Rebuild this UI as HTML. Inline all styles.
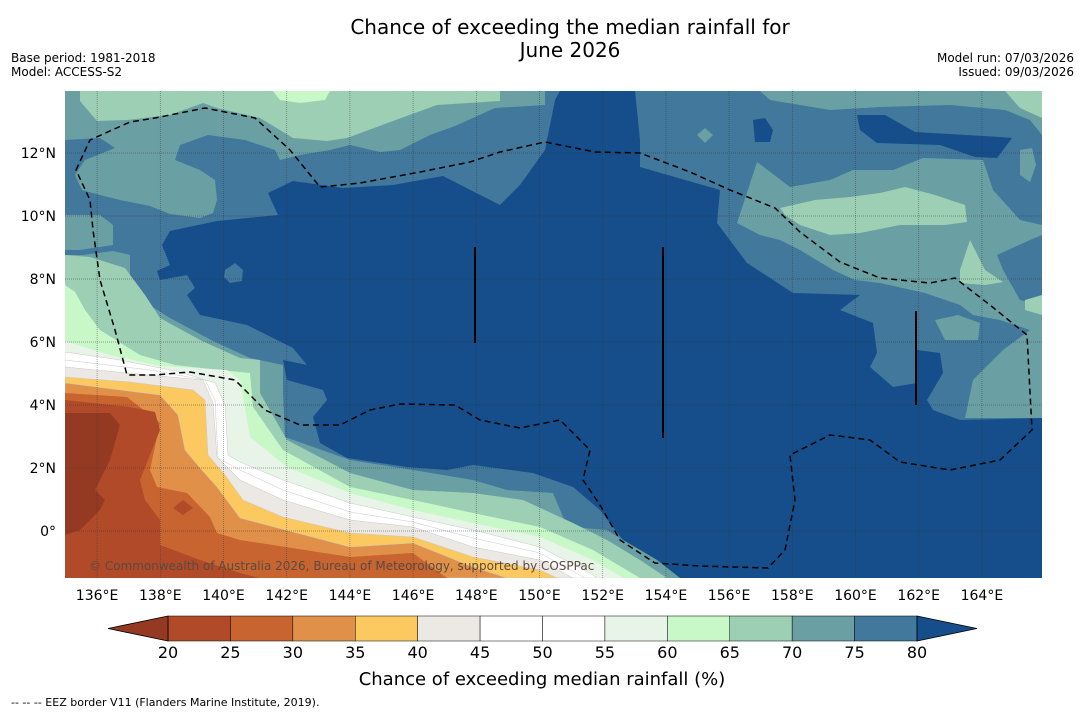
<!DOCTYPE html>
<html><head><meta charset="utf-8">
<style>
body{margin:0;background:#fff;width:1085px;height:713px;overflow:hidden;font-family:"DejaVu Sans","Liberation Sans",sans-serif;}
svg{position:absolute;left:0;top:0}
</style></head>
<body>
<svg width="1085" height="713" id="svg" font-family="DejaVu Sans, Liberation Sans, sans-serif">
<text x="570" y="34" font-size="20" text-anchor="middle">Chance of exceeding the median rainfall for</text>
<text x="570" y="57" font-size="20" text-anchor="middle">June 2026</text>
<text x="11" y="62" font-size="12">Base period: 1981-2018</text>
<text x="11" y="76" font-size="12">Model: ACCESS-S2</text>
<text x="1074" y="62" font-size="12" text-anchor="end">Model run: 07/03/2026</text>
<text x="1074" y="76" font-size="12" text-anchor="end">Issued: 09/03/2026</text>
<defs><clipPath id="mc"><rect x="65" y="91" width="977" height="487"/></clipPath></defs>
<g id="map" clip-path="url(#mc)"></g>
<g id="cb"></g>
<text x="542" y="685" font-size="18" text-anchor="middle">Chance of exceeding median rainfall (%)</text>
<text x="11" y="706" font-size="11">--  --  -- EEZ border V11 (Flanders Marine Institute, 2019).</text>
</svg>
<script>
const levels=[20,25,30,35,40,45,50,55,60,65,70,75,80];
const bandColors=["#b04a28","#c86430","#e09048","#fcc860","#ece8e4","#ffffff","#ffffff","#e8f4e8","#c8f8c8","#9ccfb4","#6aa0a4","#41789c"];
const underColor="#953a22", overColor="#154e8a";
const lonTicks=[136,138,140,142,144,146,148,150,152,154,156,158,160,162,164];
const latTicks=[0,2,4,6,8,10,12];
const NS="http://www.w3.org/2000/svg";
const X=lon=>65.5+(lon-135)*31.6;
const Y=lat=>531-lat*31.5;
const svg=document.getElementById('svg'),map=document.getElementById('map'),cb=document.getElementById('cb');
function mk(tag,attrs,parent){const e=document.createElementNS(NS,tag);for(const k in attrs)e.setAttribute(k,attrs[k]);parent.appendChild(e);return e;}
function poly(pts,fill,name,stroke){const p=mk('polygon',{points:pts.map(q=>q.join(",")).join(" "),fill:fill},map);
 if(stroke){p.setAttribute('stroke',stroke);p.setAttribute('stroke-width','0.5');}
 
 
 return p;}
const C70="#6aa0a4",C65="#9ccfb4",C60="#c8f8c8",C75="#41789c";
let r=mk('rect',{x:65,y:91,width:977,height:487,fill:C75},map);


// contour shapes (pixel geometry)
poly([[65,91],[545,91],[545,105],[495,108],[455,126],[430,135],[400,150],[380,152],[350,145],[330,150],[300,155],[280,160],[275,150],[245,140],[208,135],[180,145],[175,160],[200,170],[215,180],[217,200],[213,213],[200,218],[170,214],[150,206],[120,200],[100,195],[82,190],[75,175],[85,160],[115,148],[100,138],[65,140]],C70,'northwest-teal-region');
poly([[65,215],[100,215],[113,225],[113,245],[80,250],[65,250]],C70,'west-teal-patch');
poly([[80,91],[80,101],[97,121],[127,120],[170,115],[203,103],[217,108],[260,118],[293,138],[327,141],[347,138],[393,121],[437,105],[500,101],[500,91]],C65,'northwest-green-region');
poly([[273,91],[330,91],[325,100],[300,103],[280,100]],C60,'northwest-light-green-patch');
poly([[760,91],[1042,91],[1042,135],[1030,120],[1005,110],[950,105],[880,107],[830,110],[800,105],[770,100]],C70,'northeast-teal-strip');
poly([[1005,91],[1042,91],[1042,118],[1020,108]],C65,'northeast-green-corner');
poly([[737,223],[757,162],[790,187],[830,180],[853,170],[893,170],[923,158],[983,160],[993,190],[1020,220],[1042,225],[1042,235],[1030,240],[997,255],[1003,270],[1020,300],[1042,305],[1042,418],[965,418],[973,380],[1003,350],[1030,330],[1000,320],[973,315],[960,305],[925,293],[880,283],[855,280],[833,270],[800,250],[780,240],[760,235]],C70,'east-teal-region');
poly([[1020,150],[1032,148],[1036,165],[1030,182],[1020,175]],C70,'east-teal-patch');
poly([[697,135],[705,128],[713,135],[705,143]],C70,'small-teal-patch');
poly([[780,208],[815,200],[850,197],[880,193],[905,187],[935,195],[965,205],[967,222],[945,225],[900,225],[860,233],[830,235],[800,225],[785,215]],C65,'east-green-region');
poly([[960,270],[970,240],[985,270],[1003,282],[985,285],[960,283]],C65,'east-green-spike');
poly([[1025,300],[1042,295],[1042,315],[1025,310]],C65,'east-green-edge');
poly([[935,320],[958,315],[980,323],[978,340],[945,340]],C70,'southeast-teal-patch');
// high-chance region
poly([[268,193],[293,181],[343,188],[393,185],[443,176],[500,205],[520,185],[545,150],[555,100],[560,91],[635,91],[640,140],[640,167],[720,190],[717,223],[747,263],[793,293],[860,295],[840,310],[873,323],[877,353],[870,367],[893,387],[917,383],[917,350],[940,353],[943,373],[927,400],[933,410],[960,420],[1042,418],[1042,578],[680,578],[657,560],[623,540],[600,510],[573,487],[533,473],[473,465],[447,470],[407,467],[347,458],[320,443],[313,417],[327,400],[323,390],[287,380],[283,360],[307,365],[293,348],[247,325],[200,315],[187,295],[195,288],[187,275],[160,280],[157,271],[170,265],[162,245],[170,231],[217,221],[278,215]],overColor,'high-chance-region');
poly([[753,120],[765,118],[773,130],[770,142],[755,142]],overColor,'high-chance-patch');
poly([[857,115],[885,115],[915,132],[1000,137],[1012,138],[997,158],[975,157],[940,145],[877,143],[860,130]],overColor,'northeast-high-patch');
poly([[225,270],[235,263],[243,270],[242,281],[230,283],[224,277]],C75,'island-patch');
// south-west bands: boundaries in pixels, each closed at bottom-left corner
const bounds={
75:[[65,255],[83,255],[113,251],[130,255],[130,285],[143,301],[170,318],[213,341],[250,358],[283,365],[283,393],[285,437],[350,460],[413,470],[473,480],[507,490],[553,493],[563,517],[570,527],[607,530],[623,540],[657,560],[680,578]],
70:[[65,255],[90,257],[125,268],[145,295],[160,318],[200,340],[240,358],[260,360],[260,393],[287,440],[350,473],[413,490],[473,493],[523,500],[573,523],[607,540],[640,560],[667,578]],
65:[[65,285],[75,292],[85,310],[100,330],[140,355],[175,365],[220,370],[250,373],[253,407],[283,450],[350,487],[413,500],[473,513],[540,527],[593,550],[640,578]],
60:[[65,341],[110,355],[160,366],[227,370],[240,380],[250,437],[287,467],[350,493],[413,510],[473,523],[540,537],[593,560],[623,578]],
55:[[65,352],[120,360],[180,372],[215,383],[225,405],[228,455],[240,462],[283,480],[350,503],[413,517],[473,530],[540,547],[590,573],[597,578]],
50:[[65,360],[150,370],[205,380],[215,400],[218,458],[240,470],[283,490],[350,512],[413,522],[473,538],[540,553],[585,578]],
45:[[65,367],[127,373],[203,380],[213,403],[217,457],[240,480],[283,500],[350,520],[413,527],[473,547],[540,560],[573,578]],
40:[[65,377],[130,382],[193,390],[205,400],[208,455],[225,475],[243,500],[283,517],[350,533],[413,537],[473,557],[540,570],[557,578]],
35:[[65,383],[160,395],[178,415],[185,450],[200,468],[217,487],[240,518],[350,547],[413,543],[473,567],[507,578]],
30:[[65,393],[127,397],[160,423],[150,470],[157,487],[187,493],[210,517],[217,533],[240,540],[350,557],[413,553],[440,573],[447,578]],
25:[[65,400],[130,407],[155,412],[160,430],[150,455],[140,480],[145,500],[160,520],[160,545],[200,560],[240,573],[260,578]],
20:[[65,413],[110,413],[120,425],[110,460],[95,490],[105,500],[100,510],[80,530],[65,535]]};
const order=[75,70,65,60,55,50,45,40,35,30,25,20];
order.forEach(lv=>{
 const i=levels.indexOf(lv);
 const col=i>0?bandColors[i-1]:underColor;
 const pts=bounds[lv].concat([[65,578]]);
 poly(pts,col,'band-below-'+lv,lv<=55&&lv>=35?"#c8c8c8":null);
});
poly([[173,508],[183,500],[193,508],[183,515]],bandColors[0],'small-low-patch');
// grid
lonTicks.forEach(l=>{const g=mk('line',{x1:X(l),x2:X(l),y1:91,y2:578,stroke:"#333","stroke-width":0.7,"stroke-opacity":0.6,"stroke-dasharray":"1 1"},map);


const t=mk('text',{x:X(l),y:600,"font-size":14,"text-anchor":"middle"},svg);t.textContent=l+"°E";

});
latTicks.forEach(l=>{const g=mk('line',{x1:65,x2:1042,y1:Y(l),y2:Y(l),stroke:"#333","stroke-width":0.7,"stroke-opacity":0.6,"stroke-dasharray":"1 1"},map);


const t=mk('text',{x:56,y:Y(l)+5,"font-size":14,"text-anchor":"end"},svg);t.textContent=l===0?"0°":l+"°N";

});
// EEZ
const eez="76,170 90,140 130,122 155,118 205,108 255,118 290,150 320,187 360,183 420,172 470,162 500,152 545,142 595,152 640,153 690,172 730,190 775,208 800,232 840,262 880,278 930,283 955,278 990,305 1027,335 1032,430 1000,460 950,470 900,462 870,440 830,435 790,455 795,500 785,550 768,568 700,566 655,563 620,540 600,505 583,480 590,450 560,420 520,428 480,420 455,405 400,404 370,410 340,425 300,425 265,410 235,380 190,372 155,375 127,375 115,330 100,280 93,230 90,200 76,170";
let e=mk('polyline',{points:eez,fill:"none",stroke:"#000","stroke-width":1.5,"stroke-dasharray":"6 4"},map);


[[475,247,343],[663,247,438],[916,311,405]].forEach(v=>{const l=mk('line',{x1:v[0],x2:v[0],y1:v[1],y2:v[2],stroke:"#000","stroke-width":2},map);

});
let c=mk('text',{x:89,y:570,"font-size":12,fill:"#5a4a40"},map);c.textContent="© Commonwealth of Australia 2026, Bureau of Meteorology, supported by COSPPac";


// colorbar
const cx=v=>168+(v-20)*(917-168)/60;
for(let i=0;i<bandColors.length;i++){const rr=mk('rect',{x:cx(levels[i]),y:616,width:cx(levels[i+1])-cx(levels[i]),height:25,fill:bandColors[i],stroke:"#000","stroke-width":0.5},cb);

}
let tl=mk('polygon',{points:"168,616 108,628.5 168,641",fill:underColor,stroke:"#000","stroke-width":0.8},cb);


let tr=mk('polygon',{points:"917,616 977,628.5 917,641",fill:overColor,stroke:"#000","stroke-width":0.8},cb);


levels.forEach(v=>{const t=mk('text',{x:cx(v),y:658,"font-size":16,"text-anchor":"middle"},cb);t.textContent=v;

});
</script>
</body></html>
